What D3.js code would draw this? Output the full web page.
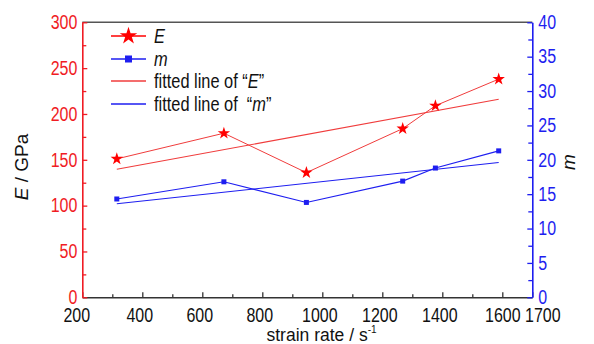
<!DOCTYPE html>
<html>
<head>
<meta charset="utf-8">
<script src="https://cdn.jsdelivr.net/npm/d3@7"></script>
<style>
  html, body { margin: 0; padding: 0; background: #fff; }
  svg { display: block; }
</style>
</head>
<body>
<svg id="chart"></svg>
<script>
// Data
const strainRate = [315, 672, 947, 1268, 1377, 1588];
const modulusE = [151, 179, 136, 184, 209, 238];
const weibullM = [14.3, 16.8, 13.8, 16.9, 18.8, 21.3];
const fitX = [315, 1588];
const fitE = [139.6, 216];
const fitM = [13.6, 19.6];

const xTicks = [200, 400, 600, 800, 1000, 1200, 1400, 1600, 1700];
const xMinor = [300, 500, 700, 900, 1100, 1300, 1500];
const eTicks = [0, 50, 100, 150, 200, 250, 300];
const eMinor = [25, 75, 125, 175, 225, 275];
const mTicks = [0, 5, 10, 15, 20, 25, 30, 35, 40];
const mMinor = [2.5, 7.5, 12.5, 17.5, 22.5, 27.5, 32.5, 37.5];

const RED = '#f01c24';
const BLUE = '#1e1ef0';
const SANS = "'Liberation Sans', Arial, sans-serif";
const SQUEEZE = 0.82; // the figure uses a narrow face for ticks and legend

const width = 594, height = 344;
const plot = { left: 82.3, right: 532.3, top: 22.3, bottom: 297.3 };

const svg = d3.select('#chart')
    .attr('width', width)
    .attr('height', height);

svg.append('rect').attr('width', width).attr('height', height).attr('fill', '#fff');

// Scales
const x = d3.scaleLinear().domain([200, 1700]).range([plot.left, plot.right]);
const yE = d3.scaleLinear().domain([0, 300]).range([plot.bottom, plot.top]);
const yM = d3.scaleLinear().domain([0, 40]).range([plot.bottom, plot.top]);

// Top frame line
svg.append('line')
    .attr('x1', plot.left).attr('x2', plot.right)
    .attr('y1', plot.top).attr('y2', plot.top)
    .attr('stroke', '#555').attr('stroke-width', 1.6);

// Axis styling helper; squeeze labels horizontally
function styleAxis(g, color, textColor, pad) {
    g.select('.domain').attr('stroke', color).attr('stroke-width', 1.6);
    g.selectAll('.tick line').attr('stroke', color).attr('stroke-width', 1.3);
    const t = g.selectAll('.tick text')
        .attr('fill', textColor)
        .attr('font-family', SANS)
        .attr('font-size', '19.5px')
        .attr('transform', `scale(${SQUEEZE},1)`);
    if (pad !== undefined) t.attr('x', pad / SQUEEZE);
}

// Bottom axis (ticks pointing inward)
const xLabelShift = { 200: -6, 1600: 0, 1700: 10 };
const gx = svg.append('g')
    .attr('transform', `translate(0,${plot.bottom})`)
    .call(d3.axisBottom(x).tickValues(xTicks).tickSize(-5).tickSizeOuter(0).tickPadding(6).tickFormat(d3.format('d')));
styleAxis(gx, '#333', '#111');
gx.selectAll('.tick text')
    .attr('dy', '0.95em')
    .attr('x', d => (xLabelShift[d] !== undefined ? xLabelShift[d] : -3) / SQUEEZE);
svg.append('g')
    .attr('transform', `translate(0,${plot.bottom})`)
    .call(d3.axisBottom(x).tickValues(xMinor).tickSize(-3).tickSizeOuter(0).tickFormat(''))
    .call(g => { g.select('.domain').remove(); g.selectAll('line').attr('stroke', '#333').attr('stroke-width', 1.3); });

// Left axis: E
const gl = svg.append('g')
    .attr('transform', `translate(${plot.left},0)`)
    .call(d3.axisLeft(yE).tickValues(eTicks).tickSize(-5).tickSizeOuter(0).tickPadding(5));
styleAxis(gl, RED, RED, -5);
svg.append('g')
    .attr('transform', `translate(${plot.left},0)`)
    .call(d3.axisLeft(yE).tickValues(eMinor).tickSize(-4).tickSizeOuter(0).tickFormat(''))
    .call(g => { g.select('.domain').remove(); g.selectAll('line').attr('stroke', RED).attr('stroke-width', 1.3); });

// Right axis: m
const gr = svg.append('g')
    .attr('transform', `translate(${plot.right},0)`)
    .call(d3.axisRight(yM).tickValues(mTicks).tickSize(-5).tickSizeOuter(0).tickPadding(6));
styleAxis(gr, BLUE, BLUE, 6);
svg.append('g')
    .attr('transform', `translate(${plot.right},0)`)
    .call(d3.axisRight(yM).tickValues(mMinor).tickSize(-4).tickSizeOuter(0).tickFormat(''))
    .call(g => { g.select('.domain').remove(); g.selectAll('line').attr('stroke', BLUE).attr('stroke-width', 1.3); });

// Axis titles
const yTitle = svg.append('text')
    .attr('transform', 'translate(28,167) rotate(-90)')
    .attr('text-anchor', 'middle')
    .attr('font-family', SANS).attr('font-size', '19px').attr('fill', '#111');
yTitle.append('tspan').attr('font-style', 'italic').text('E');
yTitle.append('tspan').text(' / GPa');

svg.append('text')
    .attr('transform', 'translate(575,162) rotate(-90)')
    .attr('text-anchor', 'middle')
    .attr('font-family', SANS).attr('font-size', '19px').attr('font-style', 'italic').attr('fill', '#111')
    .text('m');

const xTitle = svg.append('text')
    .attr('x', 266.5).attr('y', 341)
    .attr('font-family', SANS).attr('font-size', '17.5px').attr('fill', '#111');
xTitle.append('tspan').text('strain rate / s');
xTitle.append('tspan').attr('font-size', '10px').attr('dy', '-8').text('-1');

// Fitted lines
const line = d3.line().x(d => x(d[0])).y(d => d[1]);
svg.append('path')
    .datum(fitX.map((v, i) => [v, yE(fitE[i])]))
    .attr('d', line).attr('fill', 'none').attr('stroke', '#f03c3c').attr('stroke-width', 1.1);
svg.append('path')
    .datum(fitX.map((v, i) => [v, yM(fitM[i])]))
    .attr('d', line).attr('fill', 'none').attr('stroke', BLUE).attr('stroke-width', 1.1);

// Data lines
svg.append('path')
    .datum(strainRate.map((v, i) => [v, yE(modulusE[i])]))
    .attr('d', line).attr('fill', 'none').attr('stroke', '#f03c3c').attr('stroke-width', 1);
svg.append('path')
    .datum(strainRate.map((v, i) => [v, yM(weibullM[i])]))
    .attr('d', line).attr('fill', 'none').attr('stroke', BLUE).attr('stroke-width', 1.1);

// Markers
const star = d3.symbol().type(d3.symbolStar).size(48);
svg.selectAll('.star')
    .data(strainRate.map((v, i) => [v, modulusE[i]]))
    .join('path')
    .attr('class', 'star')
    .attr('transform', d => `translate(${x(d[0])},${yE(d[1])})`)
    .attr('d', star)
    .attr('fill', '#ff0000');

svg.selectAll('.sq')
    .data(strainRate.map((v, i) => [v, weibullM[i]]))
    .join('rect')
    .attr('class', 'sq')
    .attr('x', d => x(d[0]) - 2.5)
    .attr('y', d => yM(d[1]) - 2.5)
    .attr('width', 5).attr('height', 5)
    .attr('fill', BLUE);

// Legend
const legendRows = [
    { y: 36, color: '#ff0000', marker: 'star', label: [['E', true]] },
    { y: 59, color: BLUE, marker: 'sq', label: [['m', true]] },
    { y: 81, color: '#f03c3c', marker: null, label: [['fitted line of \u201c', false], ['E', true], ['\u201d', false]] },
    { y: 104, color: BLUE, marker: null, label: [['fitted line of \u00a0\u201c', false], ['m', true], ['\u201d', false]] }
];
const legend = svg.append('g');
legendRows.forEach(r => {
    legend.append('line')
        .attr('x1', 111).attr('x2', 146)
        .attr('y1', r.y).attr('y2', r.y)
        .attr('stroke', r.color).attr('stroke-width', 1.4);
    if (r.marker === 'star') {
        legend.append('path')
            .attr('transform', `translate(128.5,${r.y})`)
            .attr('d', d3.symbol().type(d3.symbolStar).size(95))
            .attr('fill', r.color);
    } else if (r.marker === 'sq') {
        legend.append('rect')
            .attr('x', 125).attr('y', r.y - 3.5)
            .attr('width', 7).attr('height', 7)
            .attr('fill', r.color);
    }
    const t = legend.append('text')
        .attr('transform', `translate(154,${r.y + 7}) scale(${SQUEEZE},1)`)
        .attr('font-family', SANS).attr('font-size', '20px').attr('fill', '#111');
    r.label.forEach(([s, it]) => {
        t.append('tspan').attr('font-style', it ? 'italic' : 'normal').text(s);
    });
});
</script>
</body>
</html>
